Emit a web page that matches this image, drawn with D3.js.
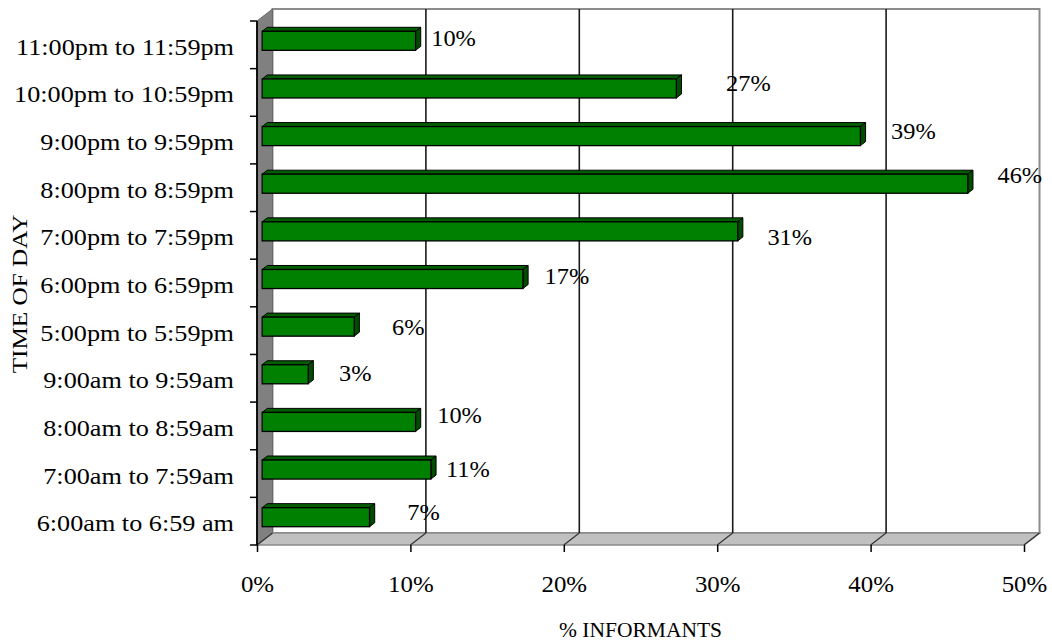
<!DOCTYPE html>
<html>
<head>
<meta charset="utf-8">
<script src="https://cdn.jsdelivr.net/npm/d3@7"></script>
<style>
  body { margin: 0; background: #fff; }
  text { font-family: "Liberation Serif", "Times New Roman", serif; fill: #000; }
</style>
</head>
<body>
<svg id="chart" width="1052" height="644"></svg>
<script>
// Time slots, listed top to bottom
const categories = [
  "11:00pm to 11:59pm",
  "10:00pm to 10:59pm",
  "9:00pm to 9:59pm",
  "8:00pm to 8:59pm",
  "7:00pm to 7:59pm",
  "6:00pm to 6:59pm",
  "5:00pm to 5:59pm",
  "9:00am to 9:59am",
  "8:00am to 8:59am",
  "7:00am to 7:59am",
  "6:00am to 6:59 am"
];
// Share of informants (%) per time slot
const informants = [10, 27, 39, 46, 31, 17, 6, 3, 10, 11, 7];
const percentTicks = [0, 10, 20, 30, 40, 50];
const xTitle = "% INFORMANTS";
const yTitle = "TIME OF DAY";

// ---- layout ----
const front = { left: 257, right: 1024, top: 21, bottom: 545 };
const depth = { dx: 15.5, dy: -12 };        // projection of the box depth
const barSlab = [1 / 3, 2 / 3];             // bars occupy the middle third of the depth
// hand placement of the value labels: [dx, dy] from the default spot
const labelOffsets = [[-12, 0], [22, -2], [3, -2], [2, -6], [2, 9], [-6, 0], [4, 3], [-3, 2], [-6, -4], [-13, 2], [4, -2]];
const fonts = { cat: 23, tick: 23.5, value: 23, title: 21.5, ytitle: 21 };
const stretch = { cat: 1.14, tick: 1.06, value: 1.06, title: 1.0, ytitle: 1.2 };

const svg = d3.select("#chart");

const x = d3.scaleLinear().domain([0, 50]).range([front.left, front.right]);
const y = d3.scaleBand().domain(categories).range([front.top, front.bottom])
  .paddingInner(0.6).paddingOuter(0.3);

const back = {
  left: front.left + depth.dx, right: front.right + depth.dx,
  top: front.top + depth.dy, bottom: front.bottom + depth.dy
};

// ---- walls and floor ----
const pts = a => a.map(p => p.join(",")).join(" ");

svg.append("rect")
  .attr("x", back.left).attr("y", back.top)
  .attr("width", back.right - back.left).attr("height", back.bottom - back.top)
  .attr("fill", "#fff").attr("stroke", "#8c8c8c").attr("stroke-width", 2);

svg.append("polygon")
  .attr("points", pts([[front.left, front.top], [back.left, back.top], [back.left, back.bottom], [front.left, front.bottom]]))
  .attr("fill", "#808080").attr("stroke", "#6a6a6a").attr("stroke-width", 1);

svg.append("polygon")
  .attr("points", pts([[front.left, front.bottom], [back.left, back.bottom], [back.right, back.bottom], [front.right, front.bottom]]))
  .attr("fill", "#c0c0c0").attr("stroke", "#8a8a8a").attr("stroke-width", 1.5);

// back-wall gridlines
svg.append("g").selectAll("line")
  .data(percentTicks.filter(t => t > 0 && t < 50))
  .join("line")
  .attr("x1", d => x(d) + depth.dx).attr("x2", d => x(d) + depth.dx)
  .attr("y1", back.top).attr("y2", back.bottom)
  .attr("stroke", "#1a1a1a").attr("stroke-width", 1.6);

// floor gridlines
svg.append("g").selectAll("line")
  .data(percentTicks)
  .join("line")
  .attr("x1", d => x(d)).attr("y1", front.bottom)
  .attr("x2", d => x(d) + depth.dx).attr("y2", back.bottom)
  .attr("stroke", "#333").attr("stroke-width", 1.2);

// ---- axes ----
const xAxis = d3.axisBottom(x).tickValues(percentTicks).tickSize(7).tickFormat(d => d + "%");
const gx = svg.append("g").attr("transform", `translate(0,${front.bottom})`).call(xAxis);
gx.select(".domain").remove();
gx.selectAll(".tick line").attr("stroke", "#000").attr("stroke-width", 1.5);
gx.selectAll(".tick text")
  .attr("y", 0).attr("dy", null)
  .attr("font-size", fonts.tick)
  .attr("transform", `translate(0,47) scale(${stretch.tick},1)`);

const catTicks = d3.range(categories.length + 1).map(i => front.top + i * y.step());
svg.append("g").selectAll("line")
  .data(catTicks)
  .join("line")
  .attr("x1", front.left - 7).attr("x2", front.left)
  .attr("y1", d => d).attr("y2", d => d)
  .attr("stroke", "#000").attr("stroke-width", 1.5);
svg.append("line")
  .attr("x1", front.left).attr("x2", front.left)
  .attr("y1", front.top).attr("y2", front.bottom)
  .attr("stroke", "#000").attr("stroke-width", 1.8);

svg.append("g").selectAll("text")
  .data(categories)
  .join("text")
  .attr("text-anchor", "end")
  .attr("font-size", fonts.cat)
  .attr("transform", d => `translate(234,${y(d) + y.bandwidth() / 2 + 10}) scale(${stretch.cat},1)`)
  .text(d => d);

// ---- 3D bars ----
const f0x = depth.dx * barSlab[0], f0y = depth.dy * barSlab[0];
const sdx = depth.dx * (barSlab[1] - barSlab[0]), sdy = depth.dy * (barSlab[1] - barSlab[0]);
const rows = categories.map((c, i) => ({ c, v: informants[i], i }));

const bars = svg.append("g").selectAll("g").data(rows).join("g");
bars.each(function (d) {
  const g = d3.select(this);
  const x0 = x(0) + f0x, x1 = x(d.v) + f0x;
  const y0 = y(d.c) + f0y, h = y.bandwidth();
  g.append("polygon")
    .attr("points", pts([[x0, y0], [x0 + sdx, y0 + sdy], [x1 + sdx, y0 + sdy], [x1, y0]]))
    .attr("fill", "#005e00").attr("stroke", "#000").attr("stroke-width", 1).attr("stroke-linejoin", "round");
  g.append("polygon")
    .attr("points", pts([[x1, y0], [x1 + sdx, y0 + sdy], [x1 + sdx, y0 + h + sdy], [x1, y0 + h]]))
    .attr("fill", "#004d00").attr("stroke", "#000").attr("stroke-width", 1).attr("stroke-linejoin", "round");
  g.append("rect")
    .attr("x", x0).attr("y", y0).attr("width", x1 - x0).attr("height", h)
    .attr("fill", "#008000").attr("stroke", "#000").attr("stroke-width", 1.3);
});

// value labels
svg.append("g").selectAll("text")
  .data(rows)
  .join("text")
  .attr("text-anchor", "middle")
  .attr("font-size", fonts.value)
  .attr("transform", d => {
    const [ox, oy] = labelOffsets[d.i];
    const lx = x(d.v) + f0x + 50 + ox;
    const ly = y(d.c) + f0y + y.bandwidth() / 2 + 5 + oy;
    return `translate(${lx},${ly}) scale(${stretch.value},1)`;
  })
  .text(d => d.v + "%");

// ---- titles ----
svg.append("text")
  .attr("text-anchor", "middle")
  .attr("font-size", fonts.title)
  .attr("transform", `translate(${(front.left + front.right) / 2},637) scale(${stretch.title},1)`)
  .text(xTitle);

svg.append("text")
  .attr("text-anchor", "middle")
  .attr("font-size", fonts.ytitle)
  .attr("transform", `translate(27,294) rotate(-90) scale(${stretch.ytitle},1)`)
  .text(yTitle);
</script>
</body>
</html>
